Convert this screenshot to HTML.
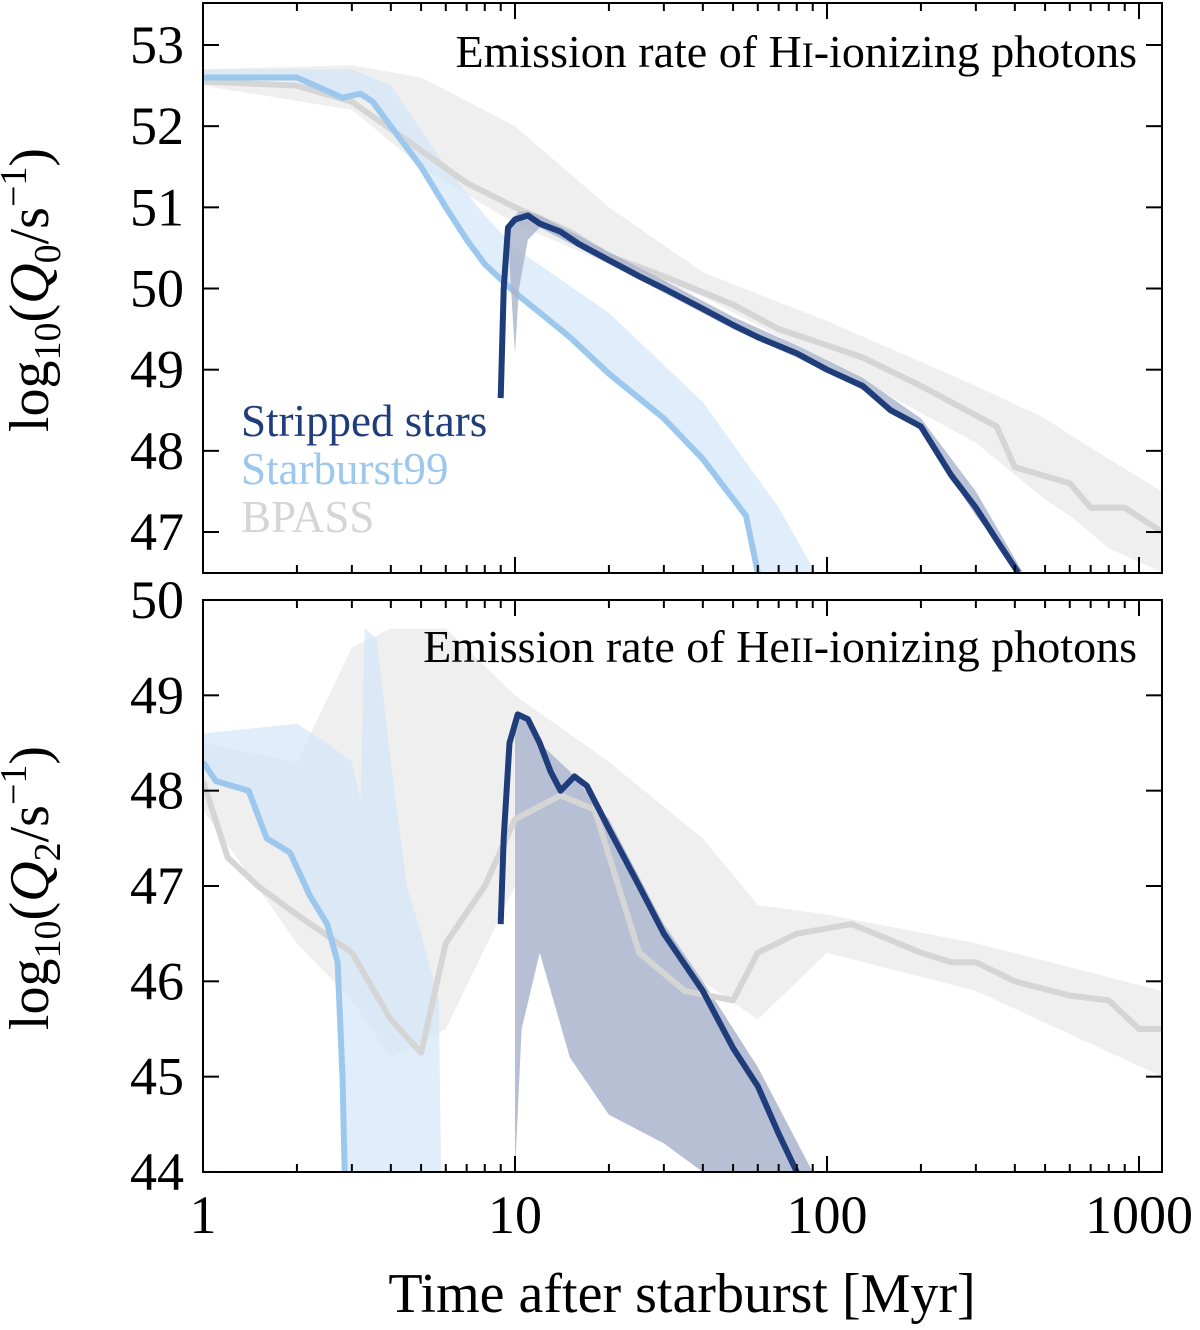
<!DOCTYPE html>
<html><head><meta charset="utf-8">
<style>
html,body{margin:0;padding:0;background:#fff;}
svg{display:block;font-family:"Liberation Serif",serif;}
</style></head>
<body>
<svg id="chart" width="1200" height="1330" viewBox="0 0 1200 1330" xmlns="http://www.w3.org/2000/svg">
<defs>
<clipPath id="c1"><rect x="203" y="3" width="959" height="570"/></clipPath>
<clipPath id="c2"><rect x="203" y="600" width="959" height="572"/></clipPath>
</defs>
<g id="p1" clip-path="url(#c1)"></g>
<g id="p2" clip-path="url(#c2)"></g>
<g id="axes"></g>
<text x="1137" y="67" font-size="46" text-anchor="end">Emission rate of H<tspan font-size="36">I</tspan>-ionizing photons</text>
<text x="1137" y="662" font-size="46" text-anchor="end">Emission rate of He<tspan font-size="36">II</tspan>-ionizing photons</text>
<text x="241" y="436" font-size="45" fill="#1f3d7a">Stripped stars</text>
<text x="241" y="484" font-size="45" fill="#9cc8ee">Starburst99</text>
<text x="241" y="532" font-size="45" fill="#d5d5d5">BPASS</text>
<text x="682" y="1312" font-size="56" text-anchor="middle">Time after starburst [Myr]</text>
<text transform="translate(48,290) rotate(-90)" font-size="56" text-anchor="middle">log<tspan font-size="38" dy="12">10</tspan><tspan dy="-12">(</tspan><tspan font-style="italic">Q</tspan><tspan font-size="38" dy="12">0</tspan><tspan dy="-12">/s</tspan><tspan font-size="38" dy="-22">−1</tspan><tspan dy="22">)</tspan></text>
<text transform="translate(48,888) rotate(-90)" font-size="56" text-anchor="middle">log<tspan font-size="38" dy="12">10</tspan><tspan dy="-12">(</tspan><tspan font-style="italic">Q</tspan><tspan font-size="38" dy="12">2</tspan><tspan dy="-12">/s</tspan><tspan font-size="38" dy="-22">−1</tspan><tspan dy="22">)</tspan></text>
</svg>
<script>
// ---- Top panel data (time [Myr], log10 Q0) ----
const sb99T1 = [1,2,2.8,3.2,3.5,4,5,6,7,8,10,15,20,30,40,55,60];
const sb99Q0 = [52.6,52.6,52.35,52.4,52.3,52.0,51.5,51.0,50.6,50.3,49.95,49.4,48.95,48.4,47.9,47.2,46.5];
const sb99BandT1 = [1,3,4,6,8,10,20,40,70,95];
const sb99BandHi1 = [52.7,52.7,52.5,51.5,50.9,50.5,49.7,48.6,47.3,46.4];
const bpassT1 = [1,2,3,5,7,10,15,20,30,50,70,100,130,200,250,350,400,600,700,900,1186];
const bpassQ0 = [52.55,52.5,52.3,51.7,51.3,51.0,50.7,50.4,50.15,49.8,49.5,49.3,49.15,48.8,48.6,48.3,47.8,47.6,47.3,47.3,47.0];
const bpassBandT1 = [1,3,5,10,20,40,100,300,500,600,800,1186];
const bpassBandHi1 = [52.7,52.75,52.6,52.0,51.0,50.2,49.6,48.8,48.4,48.2,47.9,47.5];
const bpassBandLo1 = [52.5,52.2,51.5,50.8,50.3,49.9,49.1,48.1,47.4,47.2,46.8,46.5];
const strT1 = [9,9.2,9.5,10,11,12,14,16,20,25,30,40,50,60,80,100,130,160,200,250,300,350,410];
const strQ0 = [48.65,50.0,50.75,50.85,50.9,50.8,50.7,50.55,50.35,50.15,50.0,49.75,49.55,49.4,49.2,49.0,48.8,48.5,48.3,47.7,47.3,46.9,46.5];
const strBandT1 = [9,9.5,10,10.3,11,12,16,20,30,50,80,130,200,300,440];
const strBandHi1 = [48.65,50.8,50.9,50.95,50.95,50.9,50.65,50.45,50.1,49.65,49.3,48.9,48.4,47.5,46.4];
const strBandLo1 = [48.65,50.6,49.2,50.0,50.6,50.75,50.5,50.3,49.95,49.5,49.15,48.75,48.25,47.2,46.4];
// ---- Bottom panel data (time [Myr], log10 Q2) ----
const sb99T2 = [1,1.1,1.4,1.6,1.9,2.2,2.5,2.7,2.8,2.85];
const sb99Q2 = [48.3,48.1,48.0,47.5,47.35,46.9,46.6,46.2,45.0,43.9];
const sb99BandT2 = [1,2,2.5,3,3.2,3.3,3.6,4,4.5,5,5.7,5.8];
const sb99BandHi2 = [48.6,48.7,48.5,48.3,47.9,49.7,49.6,48.3,47.0,46.5,45.8,43.9];
const bpassT2 = [1,1.2,1.5,2,3,4,5,6,8,10,14,18,25,35,50,60,80,120,200,250,300,400,600,800,1000,1186];
const bpassQ2 = [48.1,47.3,47.0,46.7,46.3,45.6,45.25,46.4,47.0,47.7,47.95,47.8,46.3,45.9,45.8,46.3,46.5,46.6,46.3,46.2,46.2,46.0,45.85,45.8,45.5,45.5];
const bpassBandT2 = [1,2,3,4,6,10,20,40,60,100,300,1186];
const bpassBandHi2 = [48.5,48.3,49.5,49.7,49.7,49.0,48.3,47.5,46.8,46.7,46.4,45.9];
const bpassBandLo2 = [47.8,46.4,45.8,45.2,45.5,47.0,46.8,46.0,45.6,46.3,45.9,45.0];
const strT2 = [9,9.2,9.6,10.2,11,12,13,14,15.5,17,20,25,30,40,50,60,70,80];
const strQ2 = [46.6,47.5,48.5,48.8,48.75,48.5,48.2,48.0,48.15,48.05,47.6,47.0,46.5,45.9,45.3,44.9,44.4,44.0];
const strBandT2 = [10,10.5,12,15,20,30,40,60,90];
const strBandHi2 = [48.8,48.8,48.5,48.2,47.7,46.6,46.0,45.1,44];
const strBandLo2 = [44,45.5,46.3,45.2,44.6,44.3,44.0,44,44];
// ---- tick labels ----
const xTickVals = [1,10,100,1000];
const yTicks1 = [47,48,49,50,51,52,53];
const yTicks2 = [44,45,46,47,48,49,50];

const NS="http://www.w3.org/2000/svg";
const X0=203,X1=1162,DEC=312;
const xs=t=>X0+Math.log10(t)*DEC;
const ys1=v=>45+(53-v)*81.17;
const ys2=v=>600+(50-v)*95.33;
function mk(tag,attrs,parent){const e=document.createElementNS(NS,tag);for(const k in attrs)e.setAttribute(k,attrs[k]);parent.appendChild(e);return e;}
function linePts(T,V,ys){return T.map((t,i)=>xs(t).toFixed(1)+','+ys(V[i]).toFixed(1)).join(' ');}
function band(T,hi,T2,lo,ys){const a=T.map((t,i)=>xs(t)+','+ys(hi[i]));const b=T2.map((t,i)=>xs(t)+','+ys(lo[i])).reverse();return a.concat(b).join(' ');}
const p1=document.getElementById('p1'),p2=document.getElementById('p2'),ax=document.getElementById('axes');
let e;
// top panel
e=mk('polygon',{points:band(bpassBandT1,bpassBandHi1,bpassBandT1,bpassBandLo1,ys1),fill:'#efefef'},p1);


e=mk('polygon',{points:band(sb99BandT1,sb99BandHi1,sb99T1,sb99Q0,ys1),fill:'#cfe3f7',opacity:'0.65'},p1);


e=mk('polyline',{points:linePts(bpassT1,bpassQ0,ys1),fill:'none',stroke:'#d5d5d5','stroke-width':6,'stroke-linejoin':'round'},p1);


e=mk('polyline',{points:linePts(sb99T1,sb99Q0,ys1),fill:'none',stroke:'#9cc8ee','stroke-width':6,'stroke-linejoin':'round'},p1);


e=mk('polygon',{points:band(strBandT1,strBandHi1,strBandT1,strBandLo1,ys1),fill:'#a9b3cc',opacity:'0.8'},p1);


e=mk('polyline',{points:linePts(strT1,strQ0,ys1),fill:'none',stroke:'#1f3d7a','stroke-width':6,'stroke-linejoin':'round'},p1);


// bottom panel
e=mk('polygon',{points:band(bpassBandT2,bpassBandHi2,bpassBandT2,bpassBandLo2,ys2),fill:'#efefef'},p2);


e=mk('polygon',{points:band(sb99BandT2,sb99BandHi2,sb99T2,sb99Q2,ys2),fill:'#cfe3f7',opacity:'0.65'},p2);


e=mk('polygon',{points:band(strBandT2,strBandHi2,strBandT2,strBandLo2,ys2),fill:'#b7bfd4'},p2);


e=mk('polyline',{points:linePts(bpassT2,bpassQ2,ys2),fill:'none',stroke:'#d5d5d5','stroke-width':6,'stroke-linejoin':'round'},p2);


e=mk('polyline',{points:linePts(sb99T2,sb99Q2,ys2),fill:'none',stroke:'#9cc8ee','stroke-width':6,'stroke-linejoin':'round'},p2);


e=mk('polyline',{points:linePts(strT2,strQ2,ys2),fill:'none',stroke:'#1f3d7a','stroke-width':6,'stroke-linejoin':'round'},p2);


// frames and ticks
const panels=[{top:3,bot:573,ys:ys1,yt:yTicks1,n:'top'},{top:600,bot:1172,ys:ys2,yt:yTicks2,n:'bottom'}];
panels.forEach(P=>{
  e=mk('rect',{x:X0,y:P.top,width:X1-X0,height:P.bot-P.top,fill:'none',stroke:'#000','stroke-width':2},ax);
  
  
  for(let d=0;d<4;d++)for(let m=1;m<10;m++){const t=Math.pow(10,d)*m;const x=xs(t);if(x>X1)continue;const L=m===1?16:8;
    mk('line',{x1:x,x2:x,y1:P.bot,y2:P.bot-L,stroke:'#000','stroke-width':2},ax);
    mk('line',{x1:x,x2:x,y1:P.top,y2:P.top+L,stroke:'#000','stroke-width':2},ax);}
  P.yt.forEach(v=>{const y=P.ys(v);
    mk('line',{x1:X0,x2:X0+16,y1:y,y2:y,stroke:'#000','stroke-width':2},ax);
    mk('line',{x1:X1,x2:X1-16,y1:y,y2:y,stroke:'#000','stroke-width':2},ax);
    e=mk('text',{x:184,y:y+18,'font-size':54,'text-anchor':'end'},ax);
    e.textContent=v;
    
    
  });
});
xTickVals.forEach(t=>{
  e=mk('text',{x:xs(t),y:1233,'font-size':54,'text-anchor':'middle'},ax);
  e.textContent=t;
  
  
});
</script>
</body></html>
